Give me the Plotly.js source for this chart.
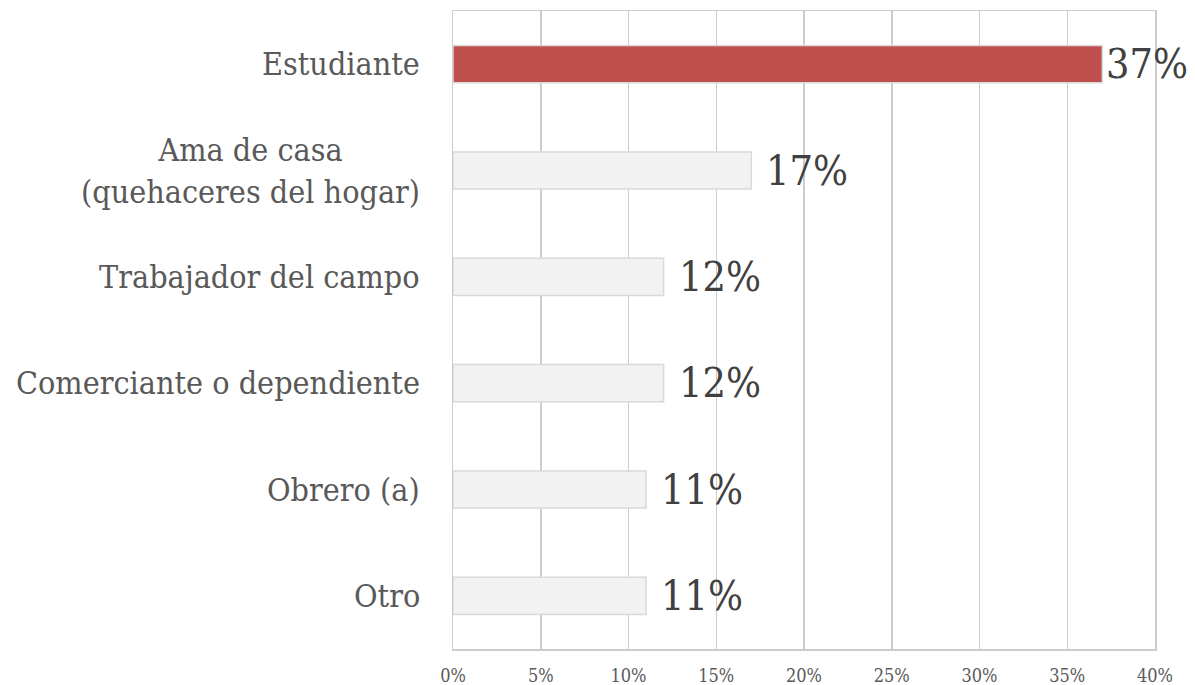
<!DOCTYPE html>
<html>
<head>
<meta charset="utf-8">
<script src="https://cdn.plot.ly/plotly-3.0.1.min.js"></script>
<style>html,body{margin:0;padding:0;background:#fff;}#chart{width:1195px;height:685px;}</style>
</head>
<body>
<div id="chart"></div>
<script>
var categories = ["Estudiante", "Ama de casa<br>(quehaceres del hogar)", "Trabajador del campo", "Comerciante o dependiente", "Obrero (a)", "Otro"];
var values = [37, 17, 12, 12, 11, 11];
var barColors = ["#C0504D", "#F2F2F2", "#F2F2F2", "#F2F2F2", "#F2F2F2", "#F2F2F2"];
var xTickVals = [0, 5, 10, 15, 20, 25, 30, 35, 40];
var xTickText = ["0%", "5%", "10%", "15%", "20%", "25%", "30%", "35%", "40%"];

var FONT = "DejaVu Serif Condensed, DejaVu Serif, serif";

var trace = {
  type: "bar",
  orientation: "h",
  y: categories,
  x: values,
  width: 0.35,
  marker: { color: barColors, line: { color: "#D9D9D9", width: 1.5 } },
  hoverinfo: "skip"
};

var catAnnotations = categories.map(function (c) {
  return {
    xref: "paper", yref: "y", x: 0, y: c, xanchor: "right", yanchor: "middle",
    xshift: -31, align: "center", showarrow: false, text: c,
    font: { family: FONT, size: 32, color: "#595959" }
  };
});

var valAnnotations = values.map(function (v, i) {
  return {
    xref: "x", yref: "y", x: v, y: categories[i], xanchor: "left", yanchor: "middle",
    xshift: v > 35 ? 2 : 13, showarrow: false, text: v + "%",
    font: { family: FONT, size: 41, color: "#404040" }
  };
});

var layout = {
  width: 1195, height: 685,
  margin: { l: 453, r: 40, t: 11, b: 36 },
  paper_bgcolor: "#ffffff", plot_bgcolor: "#ffffff",
  showlegend: false,
  xaxis: {
    range: [0, 40], tickvals: xTickVals, ticktext: xTickText,
    showgrid: true, gridcolor: "#CCCCCC", gridwidth: 1.5,
    showline: true, linecolor: "#CCCCCC", linewidth: 1.5, mirror: true,
    zeroline: false, ticks: "outside", ticklen: 10, tickcolor: "rgba(0,0,0,0)",
    tickfont: { family: FONT, size: 18, color: "#595959" }, fixedrange: true
  },
  yaxis: {
    type: "category", autorange: "reversed", showticklabels: false,
    showgrid: false, showline: true, linecolor: "#CCCCCC", linewidth: 1.5, mirror: true,
    zeroline: false, ticks: "", fixedrange: true
  },
  annotations: catAnnotations.concat(valAnnotations)
};

Plotly.newPlot("chart", [trace], layout, { displayModeBar: false, staticPlot: true });
</script>
</body>
</html>
